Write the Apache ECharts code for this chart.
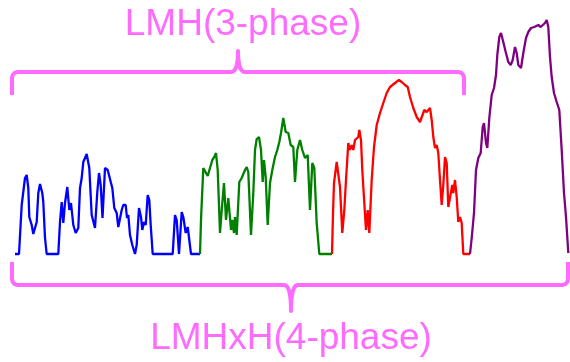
<!DOCTYPE html>
<html>
<head>
<meta charset="utf-8">
<script src="https://cdn.jsdelivr.net/npm/echarts@6/dist/echarts.min.js"></script>
<style>
html,body{margin:0;padding:0;background:#fff;}
#chart{width:570px;height:362px;}
</style>
</head>
<body>
<div id="chart"></div>
<script>
// [sample position, amplitude]
var blueData = [
[15,0],[19,0],[21.7,49],[23.3,51],[25,76],[26.7,79],[28.3,66],[29.3,37],[31.7,29],[33.3,20],[35,26],[36.7,32],[38.3,61],[40,70],[42.3,61],[43.3,52],[45,16],[46.7,0],
[58.3,0],[60,32],[61.7,52],[63.3,31],[65,51],[67.3,67],[69.3,44],[71,51],[73.3,29],[75.7,21],[78.3,26],[80,66],[81.7,76],[83.3,92],[86.7,100],[89.3,86],[91.7,39],[95,26],[97.3,62],[99,81],[100.7,69],[102.5,36],[105,86],[107.7,84],[109.3,83],[111,71],[112.3,66],[114.3,46],[116.7,41],[118.3,27],[120,26],[121.7,44],[123.3,49],[125.7,49],[127,36],[128.3,39],[130,19],[132.3,9],[135,0],
[136.7,9],[139,46],[141,37],[142.3,24],[144,32],[145.7,29],[147.7,59],[149.3,54],[150.7,29],[152.7,0],
[172.7,0],[175,39],[176.7,34],[179,0],[181.7,42],[183.3,37],[185.7,21],[187.7,27],[189,29],[191,0],[200,0]
];
var greenData = [
[200,0],[201,34],[203.3,86],[205,84],[207.7,78],[210,86],[212.3,94],[214.3,97],[216,101],[217.7,84],[220,21],[222.3,51],[224,71],[226,34],[228.3,56],[230,57],[231,24],[232.3,34],[234,21],[235,37],[236.7,19],[239.3,72],[241.7,76],[245,84],[246.7,87],[248.3,82],[251,19],[253.3,61],[255,104],[256.7,115],[259,117],[261,104],[262.7,72],[264,94],[265.7,77],[267.7,29],[270,71],[272.3,84],[275,97],[277.3,104],[279.3,112],[281,121],[283.3,136],[285.7,122],[288.3,121],[290.7,109],[293.3,107],[295,72],[297.3,104],[300,114],[302.3,104],[305,96],[307.7,99],[310,44],[312.3,91],[314.3,86],[316.7,31],[319.3,0],[332,0]
];
var redData = [
[332,0],[333,41],[334,71],[336.7,92],[338.3,92],[340,67],[342.3,21],[344.3,44],[346,74],[348.3,111],[350,104],[351.7,109],[353.3,104],[355,114],[356.7,112],[358.3,117],[359.3,124],[361,114],[362.3,84],[364.3,51],[366,24],[367.7,44],[369.3,21],[371.7,74],[374,107],[376.7,129],[380,141],[383.3,151],[386.7,161],[390,167],[395,171],[399,174],[401.7,172],[405,169],[407.7,167],[410,157],[413.3,146],[416.7,137],[420,132],[421.7,131],[424.3,144],[426.7,142],[428.3,142],[430,146],[431.7,134],[433.3,117],[435,106],[436.7,109],[438.3,101],[440,74],[441.7,49],[443.3,69],[445,97],[446.7,91],[448.3,47],[450,47],[452.3,69],[453.3,61],[455,74],[456.7,57],[458.3,32],[460,37],[461.7,31],[463.3,0],[470,0]
];
var purpleData = [
[470,0],[471.7,16],[474,41],[476,84],[478.3,96],[480.7,101],[482.7,127],[484,131],[486,111],[487.3,106],[489.3,136],[491.7,159],[494,166],[496,179],[497.3,199],[499.3,217],[501,221],[503.3,212],[505.7,202],[508.3,192],[510.7,189],[512.7,194],[515,207],[516.7,201],[518.3,189],[521,186],[523.3,201],[526,216],[528.3,222],[531,226],[532.7,226],[534.3,227],[536,226],[538.3,229],[540.7,227],[542.7,226],[545,231],[546.7,234],[548.3,227],[550,197],[551.7,177],[554,161],[556.7,152],[559.3,144],[561.7,104],[564,61],[566,37],[568.3,1]
];
var topLabel = 'LMH(3-phase)';
var bottomLabel = 'LMHxH(4-phase)';

var pink = '#ff6bff';

// brace outline built from straight runs and quadratic corners (layout only)
function quad(p0, c, p1, out){
  for (var i = 1; i <= 10; i++){
    var t = i / 10, u = 1 - t;
    out.push([u*u*p0[0] + 2*u*t*c[0] + t*t*p1[0], u*u*p0[1] + 2*u*t*c[1] + t*t*p1[1]]);
  }
}
function brace(x0, x1, xm, yEnd, yBar, yTip, r){
  var s = yEnd < yBar ? 1 : -1; // direction from bar toward end
  var pts = [[x0, yEnd], [x0, yBar - s*r]];
  quad([x0, yBar - s*r], [x0, yBar], [x0 + r, yBar], pts);
  pts.push([xm - r, yBar]);
  quad([xm - r, yBar], [xm, yBar], [xm, yTip], pts);
  quad([xm, yTip], [xm, yBar], [xm + r, yBar], pts);
  pts.push([x1 - r, yBar]);
  quad([x1 - r, yBar], [x1, yBar], [x1, yBar - s*r], pts);
  pts.push([x1, yEnd]);
  return pts;
}

var chart = echarts.init(document.getElementById('chart'), null, {renderer:'canvas'});
function lineSeries(data, color){
  return {type:'line', data:data, showSymbol:false, symbol:'none', smooth:false,
    lineStyle:{color:color, width:2.3}, itemStyle:{color:color}, silent:true, z:3};
}
chart.setOption({
  animation:false,
  backgroundColor:'#fff',
  grid:{left:0,right:0,top:0,bottom:0},
  xAxis:{type:'value', min:0, max:570, show:false},
  yAxis:{type:'value', min:-108, max:254, show:false},
  series:[
    lineSeries(blueData,'#0000ff'),
    lineSeries(greenData,'#008000'),
    lineSeries(redData,'#ff0000'),
    lineSeries(purpleData,'#800080')
  ],
  graphic:[
    {type:'polyline', shape:{points:brace(12, 464, 238, 95, 72, 51, 7)},
     style:{stroke:pink, lineWidth:4, fill:null, lineJoin:'round'}},
    {type:'polyline', shape:{points:brace(12, 568, 291, 262, 285, 311, 7)},
     style:{stroke:pink, lineWidth:4, fill:null, lineJoin:'round'}},
    {type:'text', x:243, y:25, style:{text:topLabel, fill:pink, font:'37px "Liberation Sans", Arial, sans-serif', textAlign:'center', textVerticalAlign:'middle'}},
    {type:'text', x:291, y:339, style:{text:bottomLabel, fill:pink, font:'37px "Liberation Sans", Arial, sans-serif', textAlign:'center', textVerticalAlign:'middle'}}
  ]
});
</script>
</body>
</html>
